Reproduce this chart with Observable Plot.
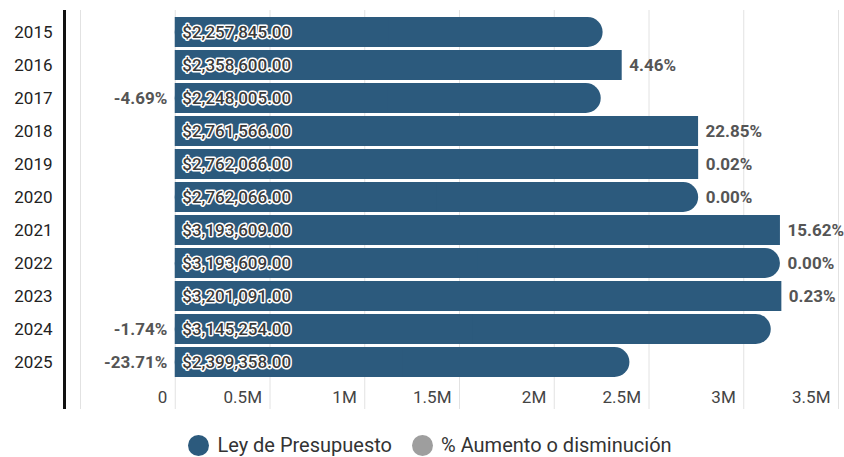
<!DOCTYPE html>
<html>
<head>
<meta charset="utf-8">
<script src="https://cdn.jsdelivr.net/npm/d3@7"></script>
<script src="https://cdn.jsdelivr.net/npm/@observablehq/plot@0.6"></script>
<style>
  html, body { margin: 0; padding: 0; background: #fff; }
  body { font-family: Roboto, "Noto Sans", sans-serif; width: 844px; }
  #chart svg { display: block; }
  .legend { display: flex; justify-content: center; align-items: center; gap: 20px;
            height: 40px; font-size: 20px; color: #333; padding-left: 16px; }
  .legend span { display: inline-flex; align-items: center; gap: 8px; }
  .legend i { display: inline-block; width: 21px; height: 21px; border-radius: 50%; }
</style>
</head>
<body>
<div id="chart"></div>
<div class="legend">
  <span><i style="background:#2c5a7d"></i>Ley de Presupuesto</span>
  <span><i style="background:#9e9e9e"></i>% Aumento o disminución</span>
</div>
<script>
// Presupuesto anual (Ley de Presupuesto) y variación porcentual respecto al año anterior
const years = ["2015", "2016", "2017", "2018", "2019", "2020", "2021", "2022", "2023", "2024", "2025"];
const budget = [2257845, 2358600, 2248005, 2761566, 2762066, 2762066, 3193609, 3193609, 3201091, 3145254, 2399358];
const pctChange = [null, 4.46, -4.69, 22.85, 0.02, 0.00, 15.62, 0.00, 0.23, -1.74, -23.71];
const gridValues = [-500000, 0, 500000, 1000000, 1500000, 2000000, 2500000, 3000000, 3500000];
const xTicks = [0, 500000, 1000000, 1500000, 2000000, 2500000, 3000000, 3500000];
const xTickLabels = ["0", "0.5M", "1M", "1.5M", "2M", "2.5M", "3M", "3.5M"];

const BAR = "#2c5a7d";
const rows = years.map((year, i) => ({year, budget: budget[i], pct: pctChange[i]}));
// Bars whose change is not positive end with a rounded cap
const rounded = d => !(d.pct > 0);
const money = d3.format("$,.2f");
const fs = 17;

const chart = Plot.plot({
  width: 844,
  height: 425,
  marginLeft: 80,
  marginRight: 6,
  marginTop: 10,
  marginBottom: 16,
  style: {fontFamily: "Roboto, 'Noto Sans', sans-serif", background: "#fff"},
  x: {domain: [-500000, 3500000], axis: null},
  y: {domain: years, range: [10.5, 383.5], padding: 0.1, axis: null},
  marks: [
    Plot.ruleX(gridValues, {stroke: "#e2e2e2", strokeWidth: 1}),
    Plot.ruleX([-500000], {dx: -16, stroke: "#111", strokeWidth: 3}),
    // year labels
    Plot.text(years, {y: d => d, frameAnchor: "left", dx: -28, textAnchor: "end",
      fontSize: fs, fill: "#222"}),
    // rounded-cap bars
    Plot.barX(rows.filter(rounded), {x1: 0, x2: "budget", y: "year", fill: BAR, rx: 15}),
    // square body (covers the left rounding; full length for square-ended bars)
    Plot.barX(rows, {x1: 0, x2: d => rounded(d) ? d.budget / 2 : d.budget, y: "year", fill: BAR}),
    Plot.text(rows, {x: 0, y: "year", text: d => money(d.budget), textAnchor: "start", dx: 7,
      fontSize: fs, fill: "#3a3a3a", stroke: "#fff", strokeWidth: 3, fontWeight: 500}),
    // percentage change labels
    Plot.text(rows.filter(d => d.pct != null && d.pct >= 0), {x: "budget", y: "year",
      text: d => d.pct.toFixed(2) + "%", textAnchor: "start", dx: 7,
      fontSize: fs, fill: "#555", fontWeight: "bold"}),
    Plot.text(rows.filter(d => d.pct != null && d.pct < 0), {x: 0, y: "year",
      text: d => d.pct.toFixed(2) + "%", textAnchor: "end", dx: -8,
      fontSize: fs, fill: "#555", fontWeight: "bold"}),
    // x tick labels
    Plot.text(xTicks, {x: d => d, text: (d, i) => xTickLabels[i], frameAnchor: "bottom",
      dy: -7, dx: -8, textAnchor: "end", fontSize: fs, fill: "#444"})
  ]
});
document.getElementById("chart").append(chart);
</script>
</body>
</html>
